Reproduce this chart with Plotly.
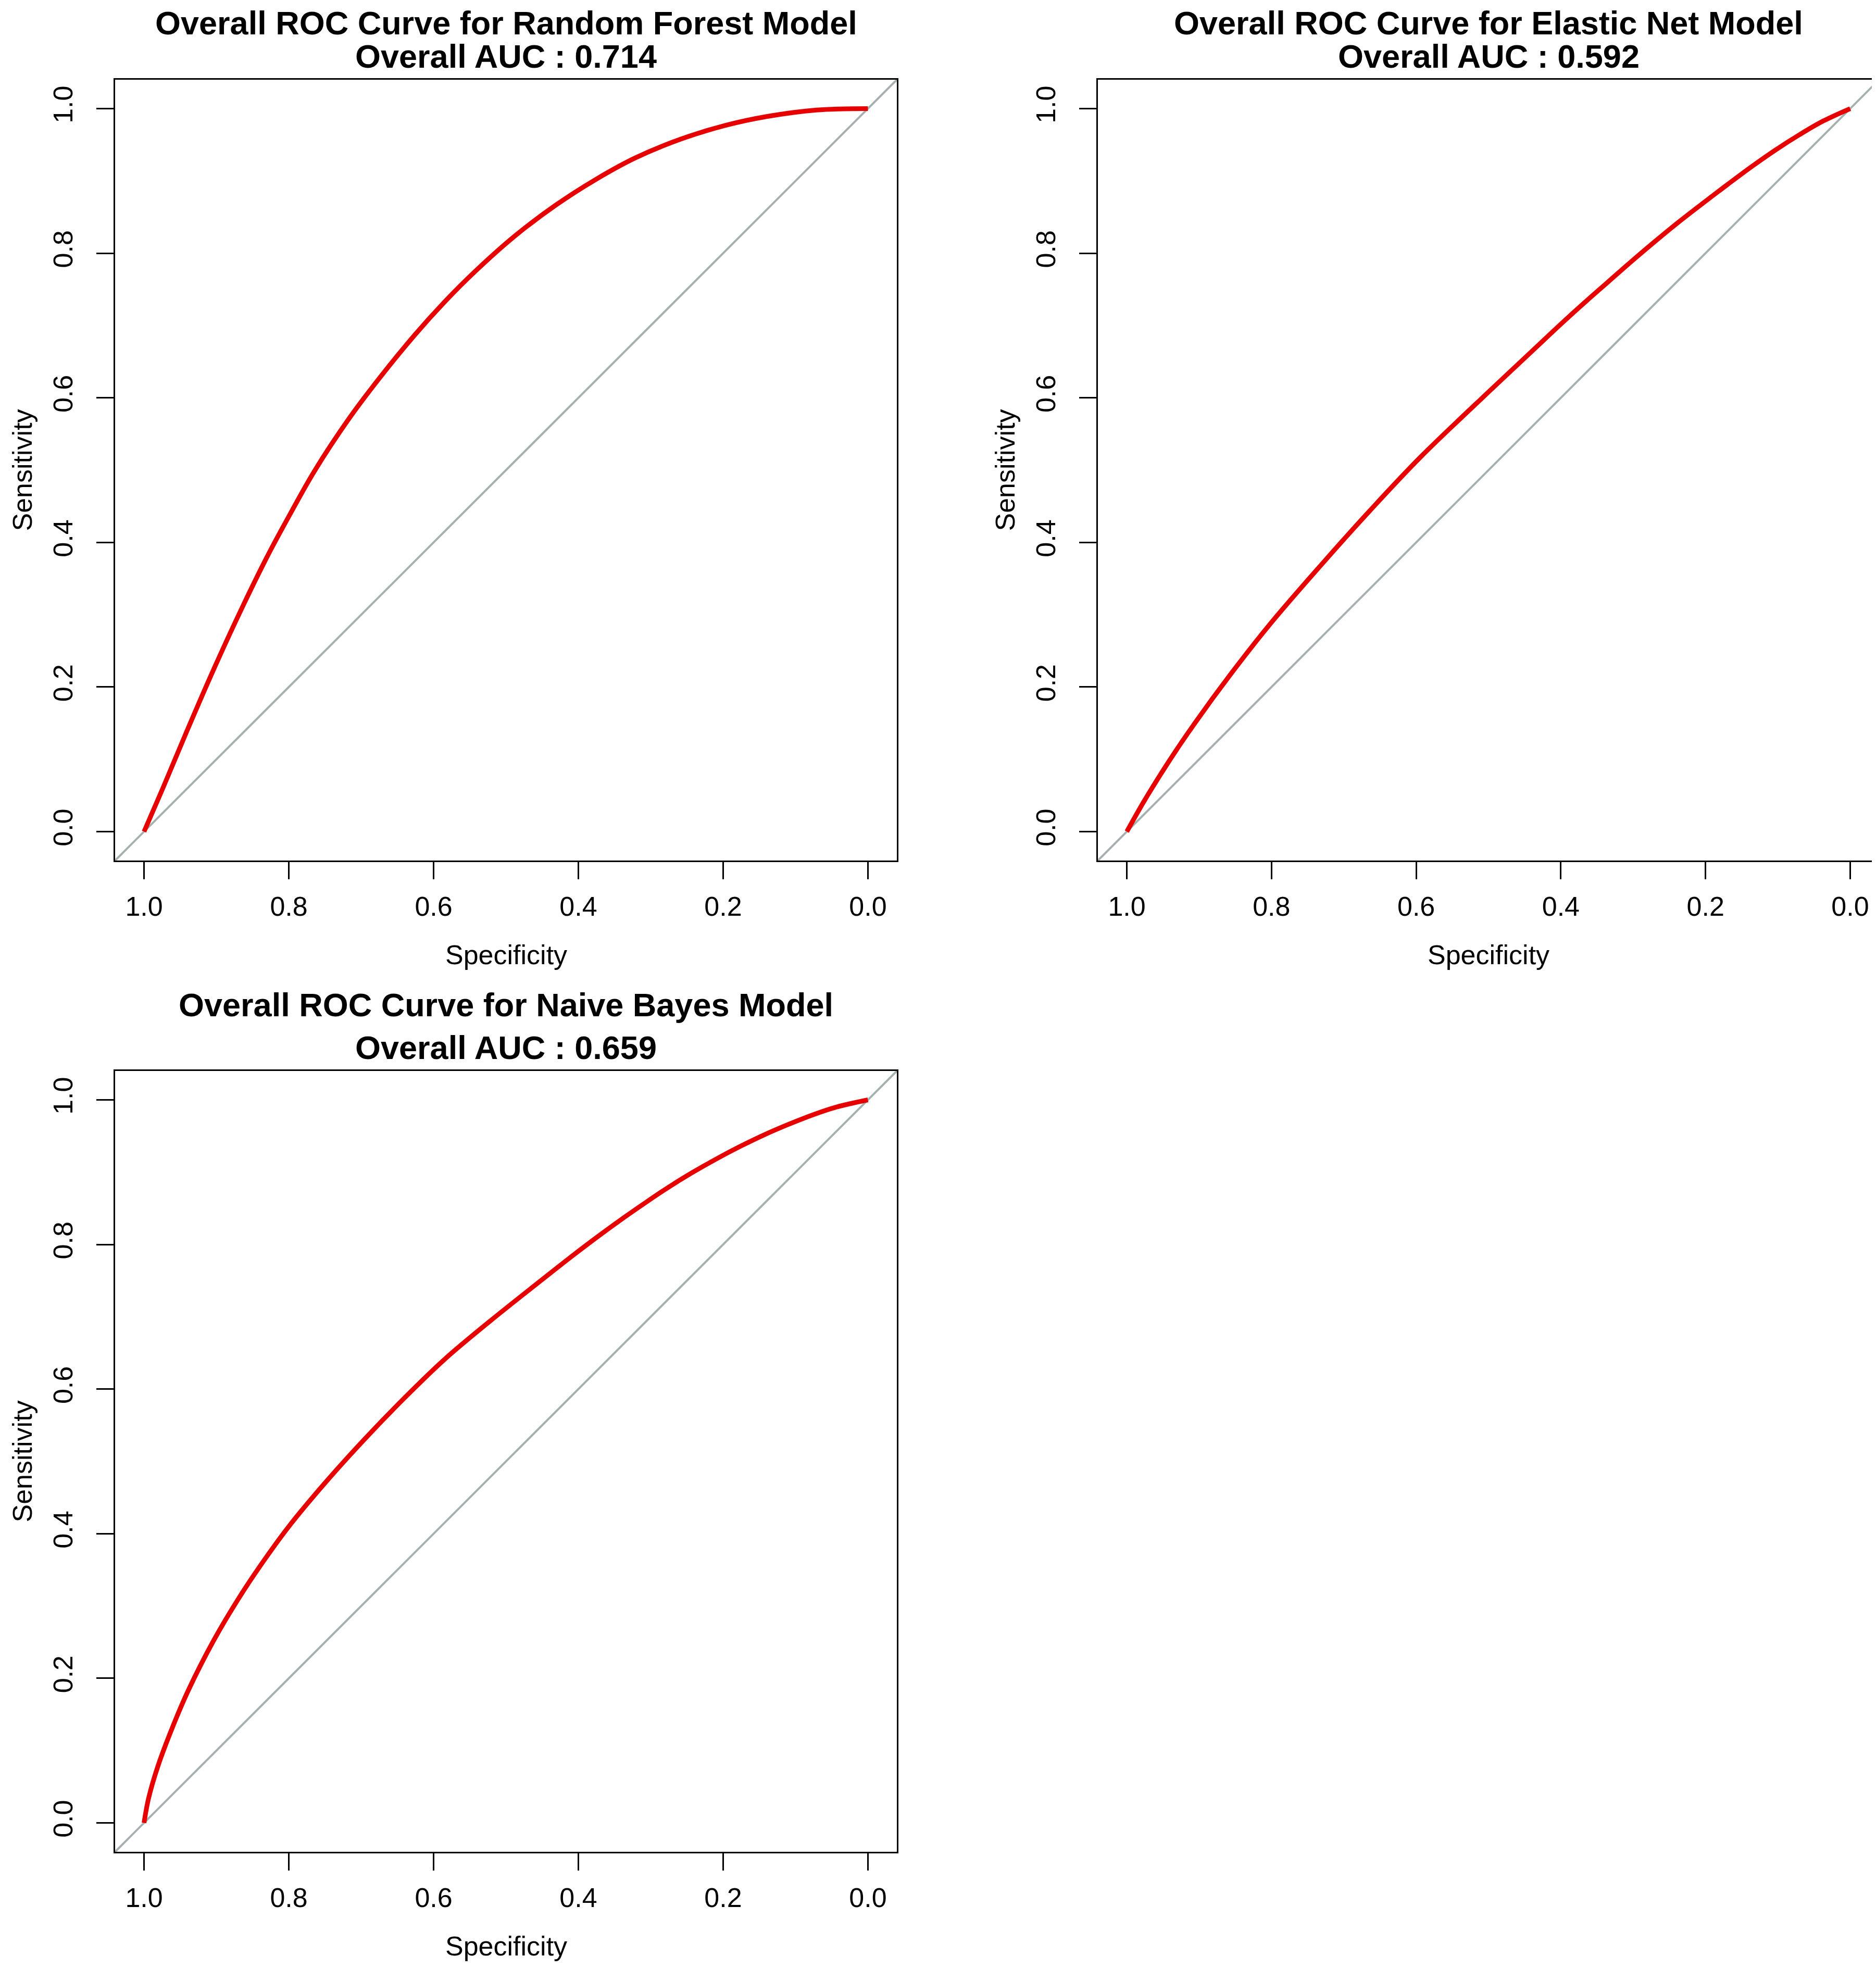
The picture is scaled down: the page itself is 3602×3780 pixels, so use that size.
import plotly.graph_objects as go

# ---------------- data ----------------
rf_spec = [1.0, 0.9736, 0.940, 0.904, 0.8625, 0.828, 0.8, 0.765, 0.717, 0.675, 0.626,
           0.585, 0.543, 0.4875, 0.432, 0.376, 0.321, 0.258, 0.196, 0.140, 0.071, 0.0]
rf_sens = [0.0, 0.061, 0.141, 0.224, 0.314, 0.384, 0.436, 0.498, 0.571, 0.627, 0.687,
           0.7325, 0.7745, 0.824, 0.866, 0.902, 0.932, 0.958, 0.977, 0.989, 0.998, 1.0]

en_spec = [1.0, 0.975, 0.94, 0.906, 0.857, 0.802, 0.733, 0.663, 0.594, 0.5, 0.467, 0.434,
           0.401, 0.368, 0.335, 0.302, 0.269, 0.236, 0.2025, 0.169, 0.136, 0.103, 0.070,
           0.037, 0.0]
en_sens = [0.0, 0.044, 0.100, 0.150, 0.217, 0.287, 0.367, 0.445, 0.518, 0.608, 0.639, 0.670,
           0.701, 0.731, 0.760, 0.789, 0.817, 0.844, 0.870, 0.8955, 0.920, 0.943, 0.964,
           0.983, 1.0]

nb_spec = [1.0, 0.994, 0.981, 0.960, 0.939, 0.904, 0.869, 0.835, 0.8, 0.751, 0.696, 0.640,
           0.585, 0.522, 0.443, 0.410, 0.3765, 0.343, 0.310, 0.2766, 0.2434, 0.210,
           0.1768, 0.1436, 0.110, 0.077, 0.0437, 0.0]
nb_sens = [0.0, 0.033, 0.078, 0.134, 0.183, 0.252, 0.311, 0.362, 0.410, 0.469, 0.530, 0.588,
           0.641, 0.694, 0.757, 0.783, 0.8085, 0.833, 0.856, 0.8785, 0.899, 0.918,
           0.9355, 0.9515, 0.966, 0.979, 0.990, 1.0]

model_names = ["Random Forest", "Elastic Net", "Naive Bayes"]
auc_values = ["0.714", "0.592", "0.659"]
tick_values = [1.0, 0.8, 0.6, 0.4, 0.2, 0.0]
x_label = "Specificity"
y_label = "Sensitivity"

# ---------------- styling / layout ----------------
W, H = 3602, 3780
FONT = "Liberation Sans, Arial, Helvetica, sans-serif"
RED = "#E60000"
GREY = "#A5B0B0"
TICK_FS = 52
TITLE_FS = 63

# panel frames in pixels: (left, right, top, bottom)
panels = [
    (213, 1714, 145, 1644),
    (2100, 3600, 145, 1644),
    (213, 1714, 2048, 3547),
]
curves = [(rf_spec, rf_sens), (en_spec, en_sens), (nb_spec, nb_sens)]


def fx(p):
    return p / W


def fy(p):
    return 1 - p / H


fig = go.Figure()
annotations = []
shapes = []

for i, ((l, r, t, b), (sx, sy)) in enumerate(zip(panels, curves)):
    n = "" if i == 0 else str(i + 1)
    xa, ya = "x" + n, "y" + n

    fig.add_trace(go.Scatter(
        x=sx, y=sy, mode="lines", xaxis=xa, yaxis=ya,
        line=dict(color=RED, width=9, shape="spline", smoothing=1.0),
        showlegend=False, hoverinfo="x+y",
    ))

    axis_common = dict(
        showgrid=False, zeroline=False, showline=True, linewidth=3, linecolor="black",
        mirror=True, ticks="outside", ticklen=33, tickwidth=3, tickcolor="black",
        tickvals=tick_values, tickformat=".1f",
        tickfont=dict(family=FONT, size=TICK_FS, color="black"),
        fixedrange=True,
    )
    fig.update_layout({
        "xaxis" + n: dict(axis_common, domain=[fx(l), fx(r)], range=[1.04, -0.04],
                          anchor=ya, ticklabelstandoff=8),
        "yaxis" + n: dict(axis_common, domain=[fy(b), fy(t)], range=[-0.04, 1.04],
                          anchor=xa, tickangle=-90, ticklabelstandoff=25),
    })

    # identity (chance) line across the whole panel
    shapes.append(dict(type="line", xref=xa + " domain", yref=ya + " domain",
                       x0=0, y0=0, x1=1, y1=1, layer="below",
                       line=dict(color=GREY, width=4)))

    cx = (l + r) / 2
    cy = (t + b) / 2
    title1 = dict(text=f"<b>Overall ROC Curve for {model_names[i]} Model</b>",
                  x=fx(cx), xref="paper", yref="paper", xanchor="center",
                  showarrow=False, borderpad=0,
                  font=dict(family=FONT, size=TITLE_FS, color="black"))
    if t - 127 < 40:
        # keep the text box inside the page
        title1.update(y=1.0, yanchor="top")
    else:
        title1.update(y=fy(t - 127), yanchor="middle")
    annotations += [
        title1,
        dict(text=f"<b>Overall AUC : {auc_values[i]}</b>",
             x=fx(cx), y=fy(t - 45), xref="paper", yref="paper",
             xanchor="center", yanchor="middle", showarrow=False, borderpad=0,
             font=dict(family=FONT, size=TITLE_FS, color="black")),
        dict(text=x_label, x=fx(cx), y=fy(b + 181), xref="paper", yref="paper",
             xanchor="center", yanchor="middle", showarrow=False,
             font=dict(family=FONT, size=TICK_FS, color="black")),
        dict(text=y_label, x=fx(l - 179), y=fy(cy), xref="paper", yref="paper",
             xanchor="center", yanchor="middle", showarrow=False, textangle=-90,
             borderpad=0,
             font=dict(family=FONT, size=TICK_FS, color="black")),
    ]

fig.update_layout(
    width=W, height=H,
    margin=dict(l=0, r=0, t=0, b=0),
    paper_bgcolor="white", plot_bgcolor="white",
    annotations=annotations, shapes=shapes,
    font=dict(family=FONT, color="black"),
    showlegend=False,
)

fig.write_html("out.html")
